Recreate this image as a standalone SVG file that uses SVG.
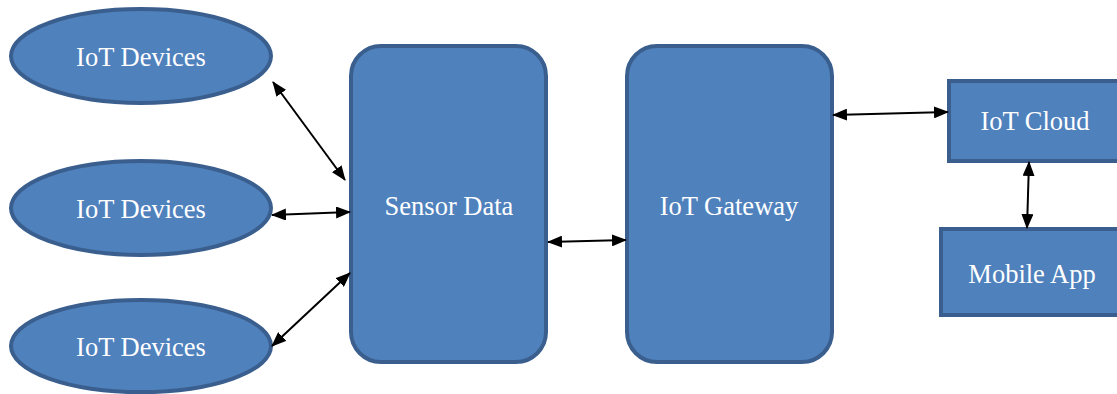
<svg xmlns="http://www.w3.org/2000/svg" width="1117" height="394" viewBox="0 0 1117 394">
<style>
.n{fill:#4f81bd;stroke:#3a5f8e;stroke-width:4}
.t{font-family:"Liberation Serif","Times New Roman",serif;font-size:26.5px;fill:#ffffff;text-anchor:middle}
.c{stroke:#000;stroke-width:2;fill:none;marker-start:url(#a);marker-end:url(#a)}
</style>
<defs>
<marker id="a" viewBox="0 0 15 12" refX="14" refY="6" markerWidth="15" markerHeight="12" markerUnits="userSpaceOnUse" orient="auto-start-reverse">
<path d="M0,0 L15,6 L0,12 Z" fill="#000"/>
</marker>
</defs>
<rect width="1117" height="394" fill="#fff"/>
<g id="dev1"><ellipse class="n" cx="141" cy="56" rx="130" ry="47"/><text class="t" x="141" y="66">IoT Devices</text></g>
<g id="dev2"><ellipse class="n" cx="141" cy="208" rx="130" ry="47"/><text class="t" x="141" y="218">IoT Devices</text></g>
<g id="dev3"><ellipse class="n" cx="141" cy="346" rx="130" ry="46"/><text class="t" x="141" y="356">IoT Devices</text></g>
<g id="sensor"><rect class="n" x="351" y="46" width="195" height="316" rx="30"/><text class="t" x="449" y="215">Sensor Data</text></g>
<g id="gateway"><rect class="n" x="627" y="46" width="205" height="316" rx="30"/><text class="t" x="729" y="215">IoT Gateway</text></g>
<g id="cloud"><rect class="n" x="949" y="81" width="172" height="80"/><text class="t" x="1035" y="130">IoT Cloud</text></g>
<g id="mobile"><rect class="n" x="941" y="229" width="180" height="86"/><text class="t" x="1032" y="283">Mobile App</text></g>
<g id="connectors">
<line class="c" x1="273" y1="82" x2="345" y2="180"/>
<line class="c" x1="272" y1="215" x2="350" y2="212"/>
<line class="c" x1="272" y1="346" x2="350" y2="273"/>
<line class="c" x1="548" y1="242" x2="626" y2="240"/>
<line class="c" x1="833" y1="115" x2="948" y2="112"/>
<line class="c" x1="1029" y1="162" x2="1027" y2="228"/>
</g>
</svg>
